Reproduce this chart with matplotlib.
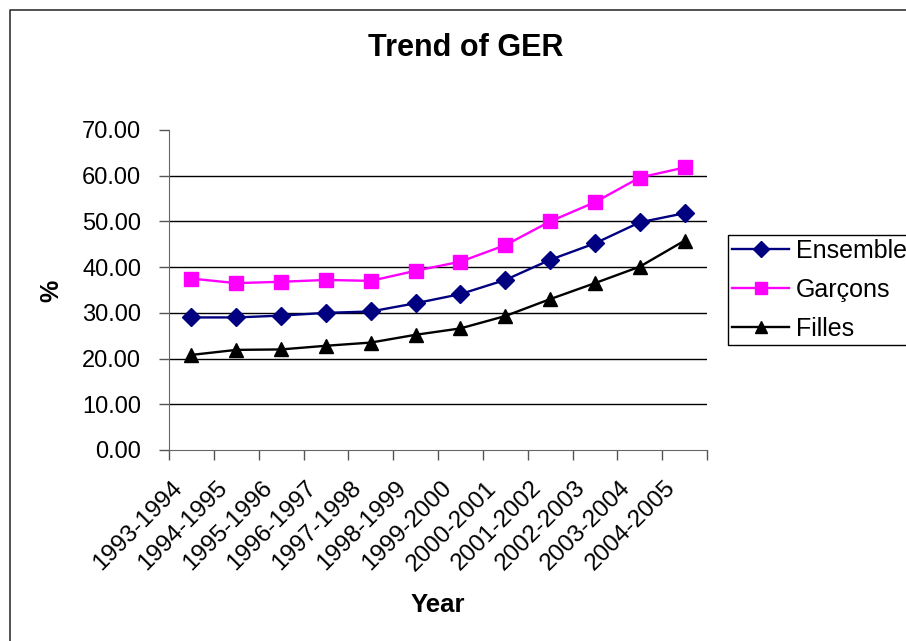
import matplotlib
matplotlib.use("Agg")
import matplotlib.pyplot as plt
from matplotlib.lines import Line2D

plt.rcParams['font.family'] = ['Liberation Sans', 'DejaVu Sans']

years = ["1993-1994", "1994-1995", "1995-1996", "1996-1997", "1997-1998", "1998-1999",
         "1999-2000", "2000-2001", "2001-2002", "2002-2003", "2003-2004", "2004-2005"]
ensemble = [29.0, 29.0, 29.4, 30.0, 30.3, 32.1, 34.1, 37.2, 41.6, 45.2, 49.8, 51.8]
garcons = [37.5, 36.5, 36.8, 37.2, 37.0, 39.2, 41.2, 44.8, 50.0, 54.2, 59.6, 61.8]
filles = [20.8, 21.9, 22.0, 22.8, 23.5, 25.2, 26.6, 29.3, 33.0, 36.5, 40.1, 45.8]
yticks = [0, 10, 20, 30, 40, 50, 60, 70]

W, H = 906, 641
fig = plt.figure(figsize=(W / 100, H / 100), dpi=100)
ax = fig.add_axes([169 / W, 1 - 450 / H, (707 - 169) / W, (450 - 130) / H])

x = list(range(len(years)))
ax.plot(x, ensemble, color='#000080', lw=1.7, marker='D', ms=9, label='Ensemble', zorder=3)
ax.plot(x, garcons, color='#FF00FF', lw=1.7, marker='s', ms=10, label='Garçons', zorder=3)
ax.plot(x, filles, color='black', lw=1.7, marker='^', ms=10.5, label='Filles', zorder=3)

ax.set_xlim(-0.5, len(years) - 0.5)
ax.set_ylim(0, 70)
ax.set_yticks(yticks)
ax.set_yticklabels([f"{v:.2f}" for v in yticks], fontsize=17)
for v in yticks[1:-1]:
    ax.axhline(v, color='black', lw=1.0, zorder=1)

ax.set_xticks([i - 0.5 for i in range(len(years) + 1)])
ax.set_xticklabels([])
ax.tick_params(axis='both', direction='out', length=7, width=1, color='#555555')
ax.tick_params(axis='y', pad=13)
for i, lab in enumerate(years):
    ax.annotate(lab, xy=(i, 0), xycoords=('data', 'axes fraction'),
                xytext=(-9, -25), textcoords='offset points',
                rotation=45, ha='right', va='center', rotation_mode='anchor', fontsize=17.5)

for s in ['top', 'right']:
    ax.spines[s].set_visible(False)
ax.spines['left'].set_color('#666666')
ax.spines['bottom'].set_color('#666666')

fig.text(438 / W, 1 - 605 / H, 'Year', ha='center', va='center', fontsize=18.5, fontweight='bold')
fig.text(51 / W, 1 - 291 / H, '%', ha='center', va='center', fontsize=18, fontweight='bold', rotation=90)
fig.text(466 / W, 1 - 48 / H, 'Trend of GER', ha='center', va='center', fontsize=22, fontweight='bold')

leg = fig.legend(loc='upper left', bbox_to_anchor=(728 / W, 1 - 235 / H), fontsize=18,
                 frameon=True, fancybox=False, edgecolor='black', framealpha=1,
                 handlelength=2.3, handletextpad=0.25, labelspacing=0.6,
                 borderpad=0.15, borderaxespad=0, markerscale=0.85)
leg.get_frame().set_linewidth(1.0)

fig.add_artist(Line2D([10 / W, 10 / W, 1], [0, 1 - 10 / H, 1 - 10 / H],
                      transform=fig.transFigure, color='#333333', lw=1.2))

fig.savefig('out.png', dpi=100)
